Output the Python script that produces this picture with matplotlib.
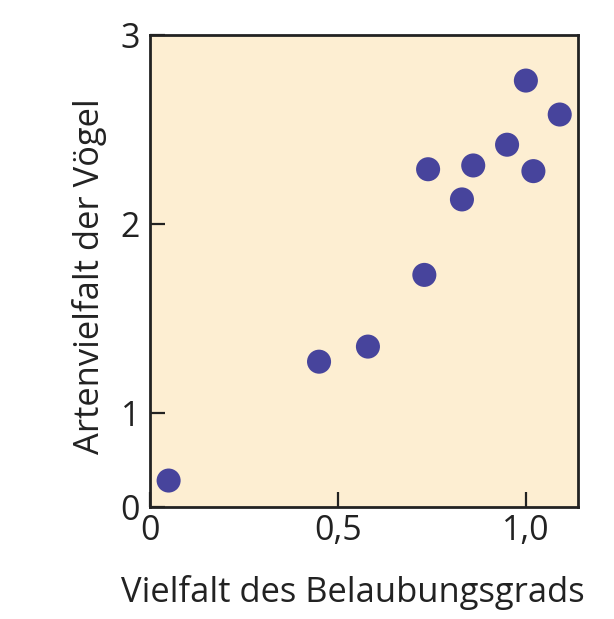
import matplotlib.pyplot as plt

# Vielfalt des Belaubungsgrads vs. Artenvielfalt der Vögel
blatt = [0.05, 0.45, 0.58, 0.73, 0.74, 0.83, 0.86, 0.95, 1.00, 1.02, 1.09]
voegel = [0.64, 1.27, 1.35, 1.73, 2.29, 2.13, 2.31, 2.42, 2.76, 2.28, 2.58]

xticks = [0, 0.5, 1.0]
xlabels = ['0', '0,5', '1,0']
yticks = [0.5, 1, 2, 3]
ylabels = ['0', '1', '2', '3']

plt.rcParams['font.family'] = ['Open Sans', 'DejaVu Sans']

fig = plt.figure(figsize=(6.14, 6.19), dpi=100)
ax = fig.add_axes([0.244, 0.181, 0.697, 0.762])
ax.set_facecolor('#fdeed2')

ax.scatter(blatt, voegel, s=300, color='#47449c', edgecolors='none', zorder=3)

ax.set_xlim(0, 1.138)
ax.set_ylim(0.5, 3)
ax.set_xticks(xticks)
ax.set_xticklabels(xlabels)
ax.set_yticks(yticks)
ax.set_yticklabels(ylabels)
ax.tick_params(direction='in', length=11, width=1.6, labelsize=24.5,
               colors='#222222', pad=7)
ax.tick_params(axis='x', pad=5)

for s in ax.spines.values():
    s.set_linewidth(2)
    s.set_color('#222222')

ax.set_xlabel('Vielfalt des Belaubungsgrads', fontsize=24.8, color='#222222')
ax.set_ylabel('Artenvielfalt der Vögel', fontsize=24.8, color='#222222')
ax.xaxis.set_label_coords(0.475, -0.145)
ax.yaxis.set_label_coords(-0.1, 0.49)

fig.savefig('out.png', dpi=100)
